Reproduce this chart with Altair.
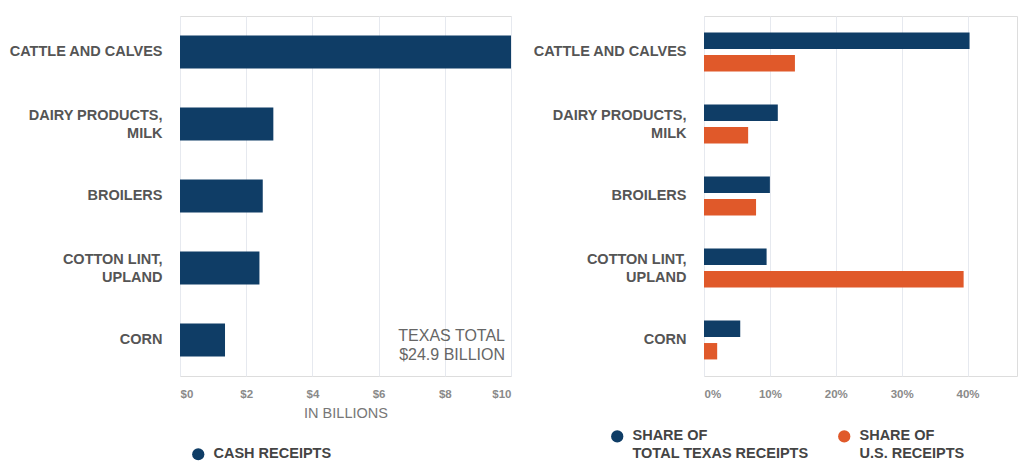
import altair as alt
import pandas as pd

categories = ["CATTLE AND CALVES", "DAIRY PRODUCTS,\nMILK", "BROILERS",
              "COTTON LINT,\nUPLAND", "CORN"]
cash_receipts = [10.0, 2.82, 2.5, 2.4, 1.36]
share_texas = [40.3, 11.2, 10.0, 9.5, 5.5]
share_us = [13.8, 6.7, 7.9, 39.4, 2.0]
series_names = ["SHARE OF\nTOTAL TEXAS RECEIPTS", "SHARE OF\nU.S. RECEIPTS"]
left_ticks = [0, 2, 4, 6, 8, 10]
right_ticks = [0, 10, 20, 30, 40]
right_max = 47.5
annotation_lines = ["TEXAS TOTAL", "$24.9 BILLION"]

NAVY = "#0f3d66"
ORANGE = "#e0592a"
FONT = "Liberation Sans"

df_left = pd.DataFrame({"cat": categories, "value": cash_receipts,
                        "series": ["CASH RECEIPTS"] * len(categories)})
rows = []
for c, a, b in zip(categories, share_texas, share_us):
    rows.append({"cat": c, "series": series_names[0], "value": a})
    rows.append({"cat": c, "series": series_names[1], "value": b})
df_right = pd.DataFrame(rows)
df_note = pd.DataFrame({"cat": [categories[-1]], "value": [10]})

y_axis = alt.Axis(title=None, labelExpr="split(datum.label, '\\n')",
                  labelFont=FONT, labelFontSize=14.5, labelFontWeight="bold",
                  labelColor="#555555", labelLineHeight=18, labelPadding=18,
                  labelOffset={"condition": {"test": "indexof(datum.value, '\\n') >= 0",
                                             "value": -8},
                               "value": 0},
                  ticks=False, domain=False, grid=False, labelLimit=300)

legend_cfg = dict(orient="none", title=None, symbolType="circle", symbolSize=150,
                  labelFont=FONT, labelFontSize=14.5, labelFontWeight="bold",
                  labelColor="#444444", labelExpr="split(datum.label, '\\n')",
                  symbolStrokeWidth=0, labelLimit=300, labelOffset=8)

left_bars = alt.Chart(df_left).mark_bar().encode(
    y=alt.Y("cat:N", sort=categories, axis=y_axis,
            scale=alt.Scale(paddingInner=0.54, paddingOuter=0.27)),
    x=alt.X("value:Q", scale=alt.Scale(domain=[0, 10], nice=False),
            axis=alt.Axis(title="IN BILLIONS", values=left_ticks,
                          labelExpr="'$' + datum.value",
                          ticks=False, domain=False,
                          gridColor="#e6e9ef", labelColor="#8a8a8a",
                          labelFont=FONT, labelFontSize=11.5, labelFontWeight="bold",
                          labelPadding=12, titleFont=FONT, titleFontSize=14.5,
                          titleFontWeight="normal", titleColor="#777777",
                          titlePadding=7)),
    color=alt.Color("series:N", scale=alt.Scale(range=[NAVY]),
                    legend=alt.Legend(legendX=11, legendY=431, **legend_cfg)),
)

note = alt.Chart(df_note).mark_text(text=annotation_lines, align="right",
                                    baseline="middle", dx=-6, dy=-4,
                                    font=FONT, fontSize=16, color="#666666",
                                    lineHeight=19).encode(
    y=alt.Y("cat:N", sort=categories),
    x=alt.X("value:Q"),
)

left = alt.layer(left_bars, note).properties(width=331, height=360)

right = alt.Chart(df_right).mark_bar().encode(
    y=alt.Y("cat:N", sort=categories, axis=y_axis,
            scale=alt.Scale(paddingInner=0.46, paddingOuter=0.23)),
    yOffset=alt.YOffset("series:N", sort=series_names,
                        scale=alt.Scale(paddingInner=0.27)),
    x=alt.X("value:Q", scale=alt.Scale(domain=[0, right_max], nice=False),
            axis=alt.Axis(title=None, values=right_ticks,
                          labelExpr="datum.value + '%'",
                          ticks=False, domain=False,
                          gridColor="#e6e9ef", labelColor="#8a8a8a",
                          labelFont=FONT, labelFontSize=11.5, labelFontWeight="bold",
                          labelPadding=12)),
    color=alt.Color("series:N", sort=series_names,
                    scale=alt.Scale(domain=series_names, range=[NAVY, ORANGE]),
                    legend=alt.Legend(columns=2, columnPadding=28,
                                      legendX=-94, legendY=413, **legend_cfg)),
).properties(width=313, height=360)

chart = alt.hconcat(left, right, spacing=20).resolve_scale(
    color="independent", y="independent", x="independent"
).resolve_legend(color="independent").configure_view(stroke=None).configure(
    style={"guide-label": {"lineHeight": 18}}
).properties(
    padding={"left": 0, "top": 7, "right": 0, "bottom": 0}
)

chart.save("out.html", embed_options={"renderer": "svg", "actions": False})
